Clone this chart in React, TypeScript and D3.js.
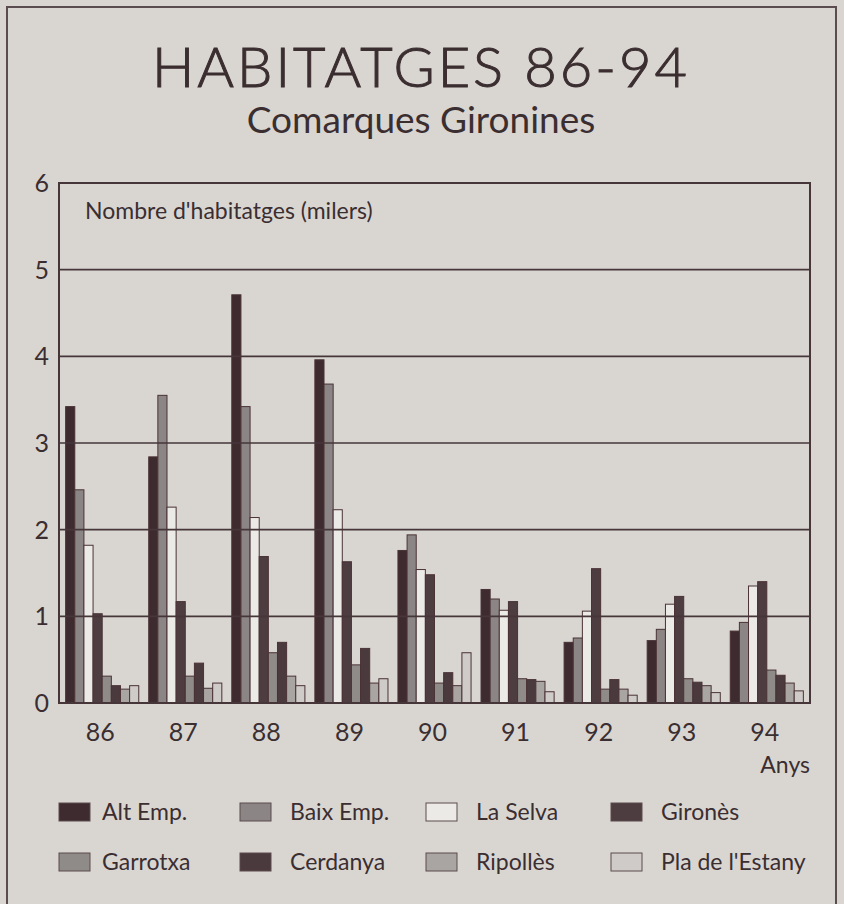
import * as React from "react"
import * as d3 from "d3"

const years = ["86", "87", "88", "89", "90", "91", "92", "93", "94"]
const comarques = ["Alt Emp.", "Baix Emp.", "La Selva", "Gironès", "Garrotxa", "Cerdanya", "Ripollès", "Pla de l'Estany"]

// thousands of dwellings, one array per comarca, 86..94
const altEmp = [3.42, 2.84, 4.71, 3.96, 1.76, 1.31, 0.70, 0.72, 0.83]
const baixEmp = [2.46, 3.55, 3.42, 3.68, 1.94, 1.20, 0.75, 0.85, 0.93]
const laSelva = [1.82, 2.26, 2.14, 2.23, 1.54, 1.07, 1.06, 1.14, 1.35]
const girones = [1.03, 1.17, 1.69, 1.63, 1.48, 1.17, 1.55, 1.23, 1.40]
const garrotxa = [0.31, 0.31, 0.58, 0.44, 0.23, 0.28, 0.16, 0.28, 0.38]
const cerdanya = [0.20, 0.46, 0.70, 0.63, 0.35, 0.27, 0.27, 0.24, 0.32]
const ripolles = [0.16, 0.17, 0.31, 0.23, 0.20, 0.25, 0.16, 0.20, 0.23]
const plaEstany = [0.20, 0.23, 0.20, 0.28, 0.58, 0.13, 0.09, 0.12, 0.14]

const series = [altEmp, baixEmp, laSelva, girones, garrotxa, cerdanya, ripolles, plaEstany]
const colors = ["#3e2b30", "#8b8685", "#eceae7", "#4d3d41", "#8f8b89", "#4a3a3e", "#a9a5a3", "#cecbc8"]
const yTicks = [0, 1, 2, 3, 4, 5, 6]

const ink = "#3b2e31"
const font = "Lato, 'Open Sans', sans-serif"

export default function App() {
    const [w, h] = [844, 904]
    const plot = { left: 59, right: 810, top: 183, bottom: 703 }

    const x0 = d3.scaleBand().domain(years).range([plot.left, plot.right]).paddingInner(0.12).paddingOuter(0.08)
    const x1 = d3.scaleBand().domain(comarques).range([0, x0.bandwidth()]).padding(0)
    const y = d3.scaleLinear().domain([0, 6]).range([plot.bottom, plot.top])

    const bars = years.map((yr, i) => (
        <g key={yr} transform={`translate(${x0(yr)},0)`}>
            {comarques.map((c, j) => (
                <rect
                    key={c}
                    x={x1(c)}
                    y={y(series[j][i])}
                    width={x1.bandwidth()}
                    height={y(0) - y(series[j][i])}
                    fill={colors[j]}
                    stroke="#4a3236"
                    strokeWidth={1}
                />
            ))}
        </g>
    ))

    const grid = yTicks.map(t => (
        <g key={t}>
            {t > 0 && t < 6 && (
                <line x1={plot.left} x2={plot.right} y1={y(t)} y2={y(t)} stroke="#46363a" strokeWidth={1.6} />
            )}
            <text x={49} y={y(t) + 9} fontSize={25} textAnchor="end" fill={ink}>{t}</text>
        </g>
    ))

    const xLabels = years.map(yr => (
        <text key={yr} x={(x0(yr) ?? 0) + x0.bandwidth() / 2 - 2} y={741} fontSize={25}
            textAnchor="middle" fill={ink}>
            {yr}
        </text>
    ))

    const swatchX = [59, 240, 426, 611]
    const labelX = [102, 290, 476, 661]
    const legend = comarques.map((c, j) => {
        const col = j % 4
        const row = Math.floor(j / 4)
        const ly = 812 + row * 50
        return (
            <g key={c}>
                <rect x={swatchX[col]} y={ly - 9} width={31} height={18} fill={colors[j]} stroke="#5a4a4d" strokeWidth={1} />
                <text x={labelX[col]} y={ly + 8} fontSize={23} fill={ink}>{c}</text>
            </g>
        )
    })

    return (
        <div style={{ position: "absolute", left: 0, top: 0 }}>
            <svg width={w} height={h} style={{ display: "block" }} fontFamily={font}>
                <rect x={0} y={0} width={w} height={h} fill="#d9d6d2" />
                <rect x={7} y={7} width={829} height={h + 10} fill="none" stroke="#5b4c4f" strokeWidth={2} />

                <text x={421} y={87} fontSize={56} fontWeight={300} textAnchor="middle" fill={ink}
                    stroke={ink} strokeWidth={1} letterSpacing={3}>
                    HABITATGES 86-94
                </text>
                <text x={421} y={133} fontSize={37} textAnchor="middle" fill={ink}>
                    Comarques Gironines
                </text>

                {bars}
                {grid}
                <rect x={plot.left} y={plot.top} width={plot.right - plot.left} height={plot.bottom - plot.top}
                    fill="none" stroke="#46363a" strokeWidth={2} />
                <text x={85} y={219} fontSize={23} fill={ink}>Nombre d'habitatges (milers)</text>

                {xLabels}
                <text x={810} y={773} fontSize={23} textAnchor="end" fill={ink}>Anys</text>
                {legend}
            </svg>
        </div>
    )
}
